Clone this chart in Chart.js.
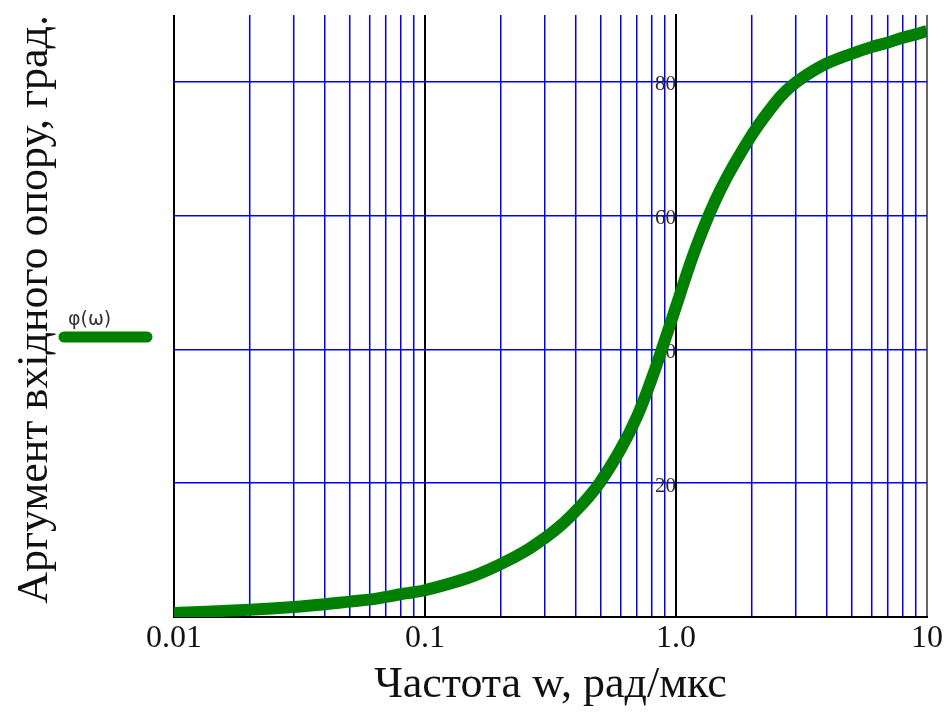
<!DOCTYPE html>
<html>
<head>
<meta charset="utf-8">
<script src="https://cdn.jsdelivr.net/npm/chart.js@4"></script>
<style>
  html, body { margin: 0; padding: 0; background: #fff; }
  #wrap { width: 945px; height: 713px; }
</style>
</head>
<body>
<div id="wrap"><canvas id="phaseChart"></canvas></div>
<script>
// frequency w, rad/us
var freq = [0.01, 0.02, 0.03, 0.04, 0.05, 0.06, 0.07, 0.08, 0.09, 0.1,
            0.15, 0.2, 0.25, 0.3, 0.35, 0.4, 0.45, 0.5, 0.6, 0.7, 0.8, 0.9, 1.0,
            1.2, 1.5, 2, 2.5, 2.75, 3, 3.5, 4, 5, 6, 7, 8, 9, 10];
// phase of input impedance, degrees
var phase = [0.6, 1.1, 1.5, 1.9, 2.3, 2.6, 3.0, 3.4, 3.7, 4.0,
             5.9, 7.9, 9.8, 11.8, 13.8, 15.9, 18.0, 20.2, 25.0, 30.0, 35.6, 41.2, 46.4,
             55.2, 63.8, 72.0, 77.0, 78.7, 79.9, 81.6, 82.8, 84.2, 85.2, 85.9, 86.6, 87.1, 87.6];

var xGridValues = [0.01, 0.02, 0.03, 0.04, 0.05, 0.06, 0.07, 0.08, 0.09,
                   0.1, 0.2, 0.3, 0.4, 0.5, 0.6, 0.7, 0.8, 0.9,
                   1, 2, 3, 4, 5, 6, 7, 8, 9, 10];
var xTickLabels = { "0.01": "0.01", "0.1": "0.1", "1": "1.0", "10": "10" };
var yGridValues = [0, 20, 40, 60, 80];

var seriesName = "\u03c6(\u03c9)";
var xTitle = "Частота w, рад/мкс";
var yTitle = "Аргумент вхідного опору, град.";

var points = freq.map(function (f, i) { return { x: f, y: phase[i] }; });

function isDecade(v) {
    return v === 0.01 || v === 0.1 || v === 1 || v === 10;
}

// little legend on the left, like the Mathcad trace label
var sideLegend = {
    id: "sideLegend",
    afterDraw: function (chart) {
        var ctx = chart.ctx;
        ctx.save();
        ctx.font = "19px 'DejaVu Sans'";
        ctx.fillStyle = "#333";
        ctx.textBaseline = "alphabetic";
        ctx.fillText(seriesName, 68, 325);
        ctx.strokeStyle = chart.data.datasets[0].borderColor;
        ctx.lineWidth = 11;
        ctx.lineCap = "round";
        ctx.beginPath();
        ctx.moveTo(64, 337);
        ctx.lineTo(147, 337);
        ctx.stroke();
        ctx.restore();
    }
};

var chart = new Chart(document.getElementById("phaseChart").getContext("2d"), {
    type: "line",
    data: {
        datasets: [{
            label: seriesName,
            data: points,
            borderColor: "#008000",
            backgroundColor: "#008000",
            borderWidth: 12,
            pointRadius: 0,
            tension: 0.4,
            yAxisID: "y"
        }]
    },
    options: {
        responsive: true,
        maintainAspectRatio: false,
        animation: false,
        layout: { padding: { top: 15, right: 16, bottom: 0, left: 0 } },
        plugins: {
            legend: { display: false },
            tooltip: { enabled: false }
        },
        scales: {
            x: {
                type: "logarithmic",
                min: 0.01,
                max: 10,
                afterBuildTicks: function (scale) {
                    scale.ticks = xGridValues.map(function (v) { return { value: v }; });
                },
                afterFit: function (scale) { scale.height = 96; },
                ticks: {
                    autoSkip: false,
                    maxRotation: 0,
                    padding: 2,
                    color: "#111",
                    font: { family: "'Liberation Serif'", size: 32 },
                    callback: function (v) { return xTickLabels[String(v)] || ""; }
                },
                grid: {
                    drawTicks: false,
                    color: function (c) {
                        if (c.tick && c.tick.value === 10) return "#666";
                        return c.tick && isDecade(c.tick.value) ? "#000" : "#0000ff";
                    },
                    lineWidth: function (c) {
                        return c.tick && isDecade(c.tick.value) ? 2 : 1.5;
                    }
                },
                border: { display: true, color: "#000", width: 2 },
                title: {
                    display: true,
                    text: xTitle,
                    color: "#111",
                    font: { family: "'Liberation Serif'", size: 44 },
                    padding: { top: 0, bottom: 1 }
                }
            },
            yT: {
                type: "linear",
                position: "left",
                min: 0,
                max: 90,
                afterFit: function (scale) { scale.width = 174; },
                ticks: { display: false },
                grid: { display: false, drawTicks: false },
                border: { display: false },
                title: {
                    display: true,
                    text: yTitle,
                    align: "end",
                    color: "#111",
                    font: { family: "'Liberation Serif'", size: 44 },
                    padding: { top: 9, bottom: 0 }
                }
            },
            y: {
                type: "linear",
                position: { x: 1 },
                min: 0,
                max: 90,
                afterBuildTicks: function (scale) {
                    scale.ticks = yGridValues.map(function (v) { return { value: v }; });
                },
                ticks: {
                    padding: -2,
                    labelOffset: 3,
                    color: "#2a2a2a",
                    font: { family: "'Liberation Serif'", size: 21 },
                    callback: function (v) { return v === 0 ? "" : String(v); }
                },
                grid: {
                    drawTicks: false,
                    color: function (c) { return c.tick && c.tick.value === 0 ? "rgba(0,0,0,0)" : "#0000ff"; },
                    lineWidth: 1.5
                },
                border: { display: true, color: "#000", width: 2 }
            }
        }
    },
    plugins: [sideLegend]
});
</script>
</body>
</html>
